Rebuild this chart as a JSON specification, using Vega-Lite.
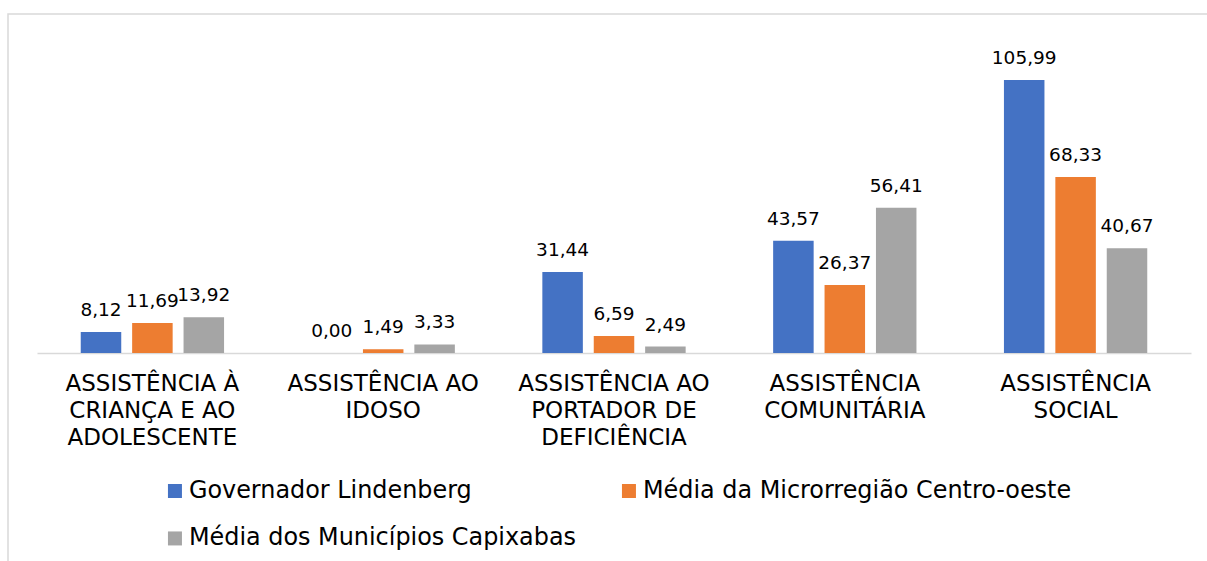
{
  "$schema": "https://vega.github.io/schema/vega-lite/v6.json",
  "width": 1215,
  "height": 560,
  "padding": {"left": 8, "top": 14, "right": 0, "bottom": 0},
  "autosize": {"type": "pad"},
  "background": "white",
  "config": {
    "view": {"stroke": "#d9d9d9", "strokeWidth": 1.5},
    "font": "DejaVu Sans",
    "locale": {"number": {"decimal": ",", "thousands": ".", "grouping": [3], "currency": ["R$", ""]}}
  },
  "data": {
    "values": [
      {"categoria": "ASSISTÊNCIA À CRIANÇA E AO ADOLESCENTE", "serie": "Governador Lindenberg", "valor": 8.12},
      {"categoria": "ASSISTÊNCIA À CRIANÇA E AO ADOLESCENTE", "serie": "Média da Microrregião Centro-oeste", "valor": 11.69},
      {"categoria": "ASSISTÊNCIA À CRIANÇA E AO ADOLESCENTE", "serie": "Média dos Municípios Capixabas", "valor": 13.92},
      {"categoria": "ASSISTÊNCIA AO IDOSO", "serie": "Governador Lindenberg", "valor": 0.0},
      {"categoria": "ASSISTÊNCIA AO IDOSO", "serie": "Média da Microrregião Centro-oeste", "valor": 1.49},
      {"categoria": "ASSISTÊNCIA AO IDOSO", "serie": "Média dos Municípios Capixabas", "valor": 3.33},
      {"categoria": "ASSISTÊNCIA AO PORTADOR DE DEFICIÊNCIA", "serie": "Governador Lindenberg", "valor": 31.44},
      {"categoria": "ASSISTÊNCIA AO PORTADOR DE DEFICIÊNCIA", "serie": "Média da Microrregião Centro-oeste", "valor": 6.59},
      {"categoria": "ASSISTÊNCIA AO PORTADOR DE DEFICIÊNCIA", "serie": "Média dos Municípios Capixabas", "valor": 2.49},
      {"categoria": "ASSISTÊNCIA COMUNITÁRIA", "serie": "Governador Lindenberg", "valor": 43.57},
      {"categoria": "ASSISTÊNCIA COMUNITÁRIA", "serie": "Média da Microrregião Centro-oeste", "valor": 26.37},
      {"categoria": "ASSISTÊNCIA COMUNITÁRIA", "serie": "Média dos Municípios Capixabas", "valor": 56.41},
      {"categoria": "ASSISTÊNCIA SOCIAL", "serie": "Governador Lindenberg", "valor": 105.99},
      {"categoria": "ASSISTÊNCIA SOCIAL", "serie": "Média da Microrregião Centro-oeste", "valor": 68.33},
      {"categoria": "ASSISTÊNCIA SOCIAL", "serie": "Média dos Municípios Capixabas", "valor": 40.67}
    ]
  },
  "encoding": {
    "x": {
      "field": "categoria",
      "type": "nominal",
      "sort": null,
      "scale": {"range": [29, 1183], "paddingInner": 0, "paddingOuter": 0},
      "axis": {
        "title": null,
        "orient": "bottom",
        "offset": -221,
        "domainColor": "#d9d9d9",
        "domainWidth": 1.5,
        "ticks": false,
        "labelAngle": 0,
        "labelFontSize": 23,
        "labelColor": "#000000",
        "labelPadding": 19,
        "labelLineHeight": 27,
        "labelBaseline": "top",
        "labelLimit": 400,
        "labelExpr": "datum.value == 'ASSISTÊNCIA À CRIANÇA E AO ADOLESCENTE' ? ['ASSISTÊNCIA À', 'CRIANÇA E AO', 'ADOLESCENTE'] : datum.value == 'ASSISTÊNCIA AO IDOSO' ? ['ASSISTÊNCIA AO', 'IDOSO'] : datum.value == 'ASSISTÊNCIA AO PORTADOR DE DEFICIÊNCIA' ? ['ASSISTÊNCIA AO', 'PORTADOR DE', 'DEFICIÊNCIA'] : datum.value == 'ASSISTÊNCIA COMUNITÁRIA' ? ['ASSISTÊNCIA', 'COMUNITÁRIA'] : ['ASSISTÊNCIA', 'SOCIAL']"
      }
    },
    "xOffset": {
      "field": "serie",
      "type": "nominal",
      "sort": null,
      "scale": {"paddingInner": 0.212, "paddingOuter": 0.851}
    },
    "y": {
      "field": "valor",
      "type": "quantitative",
      "scale": {"domain": [0, 120], "range": [339, 30]},
      "axis": null
    }
  },
  "layer": [
    {
      "mark": {"type": "bar"},
      "encoding": {
        "color": {
          "field": "serie",
          "type": "nominal",
          "sort": null,
          "scale": {
            "domain": ["Governador Lindenberg", "Média da Microrregião Centro-oeste", "Média dos Municípios Capixabas"],
            "range": ["#4472C4", "#ED7D31", "#A5A5A5"]
          },
          "legend": {
            "orient": "none",
            "direction": "horizontal",
            "legendX": 155,
            "legendY": 465,
            "columns": 2,
            "gridAlign": "each",
            "title": null,
            "symbolType": "square",
            "symbolSize": 196,
            "symbolStrokeWidth": 0,
            "labelFontSize": 23.9,
            "labelColor": "#000000",
            "labelOffset": 2,
            "labelLimit": 600,
            "columnPadding": 41,
            "rowPadding": 22.5
          }
        }
      }
    },
    {
      "mark": {"type": "text", "dy": -16, "baseline": "alphabetic", "fontSize": 18.5, "color": "#000000"},
      "encoding": {
        "text": {"field": "valor", "type": "quantitative", "format": ".2f"}
      }
    }
  ]
}
